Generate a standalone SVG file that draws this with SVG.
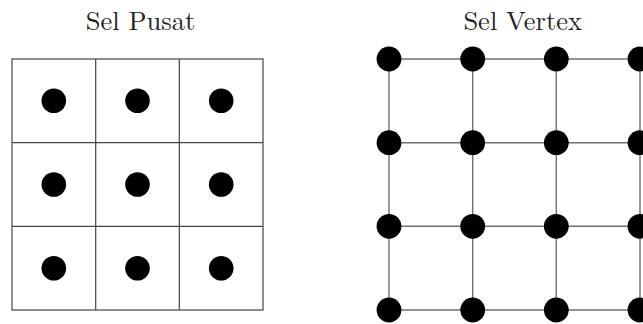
<svg xmlns="http://www.w3.org/2000/svg" width="643" height="324" viewBox="0 0 643 324">
<style>
.title{font-family:"Latin Modern Roman","Liberation Serif","DejaVu Serif",serif;font-size:26.5px;fill:#222;text-anchor:middle}
.cell{fill:none;stroke:#444;stroke-width:1.2}
.edge{stroke:#707070;stroke-width:1.4;fill:none}
.dot{fill:#000}
</style>
<rect width="643" height="324" fill="#fff"/>
<text class="title" x="140.5" y="29.6">Sel Pusat</text>
<text class="title" x="522.7" y="29.6">Sel Vertex</text>
<g id="sel-pusat">
<g id="grid-pusat">
<rect class="cell" x="12" y="59" width="251" height="251"/>
<line class="cell" x1="95.7" y1="59" x2="95.7" y2="310"/>
<line class="cell" x1="179.3" y1="59" x2="179.3" y2="310"/>
<line class="cell" x1="12" y1="142.7" x2="263" y2="142.7"/>
<line class="cell" x1="12" y1="226.3" x2="263" y2="226.3"/>
</g>
<g id="p11"><circle class="dot" cx="53.8" cy="100.8" r="12.3"/></g>
<g id="p12"><circle class="dot" cx="137.5" cy="100.8" r="12.3"/></g>
<g id="p13"><circle class="dot" cx="221.2" cy="100.8" r="12.3"/></g>
<g id="p21"><circle class="dot" cx="53.8" cy="184.5" r="12.3"/></g>
<g id="p22"><circle class="dot" cx="137.5" cy="184.5" r="12.3"/></g>
<g id="p23"><circle class="dot" cx="221.2" cy="184.5" r="12.3"/></g>
<g id="p31"><circle class="dot" cx="53.8" cy="268.2" r="12.3"/></g>
<g id="p32"><circle class="dot" cx="137.5" cy="268.2" r="12.3"/></g>
<g id="p33"><circle class="dot" cx="221.2" cy="268.2" r="12.3"/></g>
</g>
<g id="connectors">
<line class="edge" x1="389" y1="59" x2="643" y2="59"/>
<line class="edge" x1="389" y1="142.7" x2="643" y2="142.7"/>
<line class="edge" x1="389" y1="226.3" x2="643" y2="226.3"/>
<line class="edge" x1="389" y1="310" x2="643" y2="310"/>
<line class="edge" x1="389" y1="59" x2="389" y2="310"/>
<line class="edge" x1="472.7" y1="59" x2="472.7" y2="310"/>
<line class="edge" x1="556.3" y1="59" x2="556.3" y2="310"/>
<line class="edge" x1="640" y1="59" x2="640" y2="310"/>
</g>
<g id="sel-vertex">
<g id="v11"><circle class="dot" cx="389" cy="59" r="12.4"/></g>
<g id="v12"><circle class="dot" cx="472.7" cy="59" r="12.4"/></g>
<g id="v13"><circle class="dot" cx="556.3" cy="59" r="12.4"/></g>
<g id="v14"><circle class="dot" cx="640" cy="59" r="12.4"/></g>
<g id="v21"><circle class="dot" cx="389" cy="142.7" r="12.4"/></g>
<g id="v22"><circle class="dot" cx="472.7" cy="142.7" r="12.4"/></g>
<g id="v23"><circle class="dot" cx="556.3" cy="142.7" r="12.4"/></g>
<g id="v24"><circle class="dot" cx="640" cy="142.7" r="12.4"/></g>
<g id="v31"><circle class="dot" cx="389" cy="226.3" r="12.4"/></g>
<g id="v32"><circle class="dot" cx="472.7" cy="226.3" r="12.4"/></g>
<g id="v33"><circle class="dot" cx="556.3" cy="226.3" r="12.4"/></g>
<g id="v34"><circle class="dot" cx="640" cy="226.3" r="12.4"/></g>
<g id="v41"><circle class="dot" cx="389" cy="310" r="12.4"/></g>
<g id="v42"><circle class="dot" cx="472.7" cy="310" r="12.4"/></g>
<g id="v43"><circle class="dot" cx="556.3" cy="310" r="12.4"/></g>
<g id="v44"><circle class="dot" cx="640" cy="310" r="12.4"/></g>
</g>
</svg>
